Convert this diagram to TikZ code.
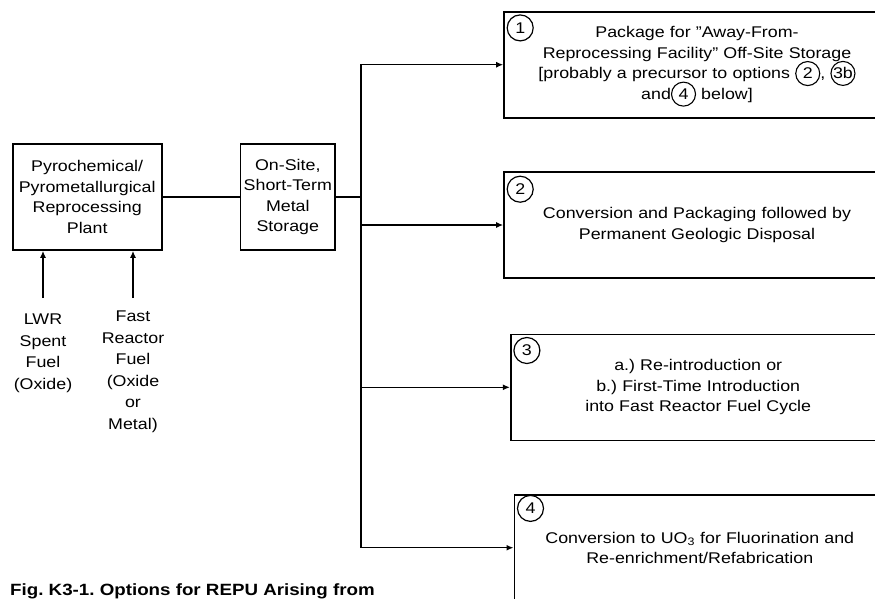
\documentclass[tikz,border=0pt]{standalone}
\usepackage{fontspec}
\setmainfont{Liberation Sans}[FakeStretch=1.15]
\usetikzlibrary{arrows.meta, positioning, calc}
\frenchspacing

\newcommand{\optref}[1]{\smash{\tikz[baseline=(r.base)]\node[circle, draw, line width=1.1pt, inner sep=0pt, minimum width=24pt, minimum height=24pt, text width={}, anchor=base] (r) {#1};}}

\begin{document}
\begin{tikzpicture}[x=1pt, y=-1pt,
    font=\fontsize{15.5}{20.5}\selectfont,
    box/.style={draw, line width=1.6pt, align=center, inner sep=0pt, minimum height=106pt},
    optbox/.style={box, minimum width=#1, text width=360pt},
    numcirc/.style={circle, draw, line width=1.2pt, minimum size=26pt, inner sep=0pt},
    feed/.style={align=center, inner sep=0pt, font=\fontsize{15.5}{21.5}\selectfont},
    conn/.style={line width=1.5pt},
    arr/.style={conn, -{Latex[length=7pt, width=6pt]}}]
    \useasboundingbox (0,0) rectangle (875,598);
    \clip (0,0) rectangle (875,598);

    \node[box, minimum width=149pt, text width=140pt] (plant) at (87.2,197) {Pyrochemical/\\Pyrometallurgical\\Reprocessing\\Plant};
    \node[box, minimum width=94.3pt, text width=94pt] (onsite) at (287.8,197) {On-Site,\\Short-Term\\Metal\\Storage};

    \node[feed, anchor=north] (lwr) at (43,314) {LWR\\Spent\\Fuel\\(Oxide)};
    \node[feed, anchor=north] (fast) at (133,311) {Fast\\Reactor\\Fuel\\(Oxide\\or\\Metal)};

    \node[optbox=386pt] (opt1) at (697,64.7) {Package for "Away-From-\\Reprocessing Facility" Off-Site Storage\\{}[probably a precursor to options \optref{2}, \optref{3b}\\and\optref{4} below]};
    \node[optbox=386pt] (opt2) at (697,225) {Conversion and Packaging followed by\\Permanent Geologic Disposal};
    \node[optbox=375pt] (opt3) at (698.2,387.3) {a.) Re-introduction or\\b.) First-Time Introduction\\into Fast Reactor Fuel Cycle};
    \node[optbox=371pt] (opt4) at (699.8,547.7) {Conversion to UO\textsubscript{3} for Fluorination and\\Re-enrichment/Refabrication};

    \foreach \n/\dy in {1/17,2/18,3/17,4/14.5}
        \node[numcirc] (num\n) at ([shift={(17,\dy)}]opt\n.north west) {\n};

    \coordinate (tr) at (361,197);
    \draw[conn] (plant) -- (onsite);
    \draw[conn] (onsite) -- (tr);
    \foreach \n in {1,...,4}
        \draw[arr] (tr) |- (opt\n);

    \draw[arr] ([yshift=16pt]lwr.north) -- (lwr.north |- plant.south);
    \draw[arr] ([yshift=13pt]fast.north) -- (fast.north |- plant.south);

    \node[anchor=base west, inner sep=0pt, font=\bfseries\fontsize{16.3}{19}\selectfont] (caption) at (10,595) {Fig. K3-1. Options for REPU Arising from};
\end{tikzpicture}
\end{document}
